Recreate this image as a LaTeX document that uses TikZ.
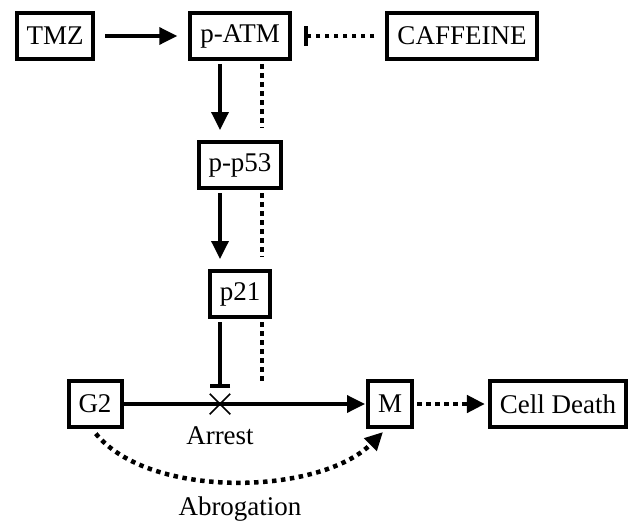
\documentclass[tikz,border=0pt]{standalone}
\usepackage{fontspec}
\setmainfont{Liberation Serif}
\usetikzlibrary{arrows.meta,shapes.misc}

\begin{document}
\begin{tikzpicture}[x=1pt,y=-1pt,
        box/.style={draw,line width=4pt,inner xsep=10pt,minimum height=46pt,font=\fontsize{27}{30}\selectfont},
        txt/.style={font=\fontsize{27}{30}\selectfont,inner sep=0pt},
        act/.style={line width=3.5pt,-{Triangle[length=18pt,width=17pt]}},
        inh/.style={line width=3.5pt,-{Bar[width=20pt,line width=4pt]}},
        dots/.style={line width=4.5pt,dash pattern=on 4.5pt off 4.5pt}]
        \useasboundingbox (0,0) rectangle (634,527);
        % boxes
        \node[box] (tmz) at (55,36) {TMZ};
        \node[box] (patm) at (240,36) {p-ATM};
        \node[box] (caff) at (462,36) {CAFFEINE};
        \node[box] (pp53) at (240,165) {p-p53};
        \node[box] (p21) at (240,294) {p21};
        \node[box] (g2) at (95,404) {G2};
        \node[box] (m) at (390,404) {M};
        \node[box] (death) at (558,404) {Cell Death};
        \node[cross out,draw,minimum size=19pt,line width=1.5pt] (x) at (220,404) {};
        \node[txt] (arrest) at (220,436) {Arrest};
        \node[txt] (abro) at (240,509) {Abrogation};
        \coordinate (dend) at (262,385);
        % pathway
        \draw[act,shorten <=10pt,shorten >=11pt] (tmz) -- (patm);
        \draw[dots,-{Bar[width=20pt,line width=4pt]},shorten <=11pt,shorten >=12pt] (caff) -- (patm);
        \draw[act,shorten <=3pt,shorten >=10pt] ([xshift=-20pt]patm.south) -- ([xshift=-20pt]pp53.north);
        \draw[act,shorten <=3pt,shorten >=10pt] ([xshift=-20pt]pp53.south) -- ([xshift=-20pt]p21.north);
        \draw[inh,shorten <=3pt,shorten >=16pt] ([xshift=-20pt]p21.south) -- (x.center);
        \foreach \a/\b in {patm/pp53,pp53/p21}{
            \draw[dots,shorten <=3pt,shorten >=12pt] ([xshift=22pt]\a.south) -- ([xshift=22pt]\b.north);
        }
        \draw[dots,shorten <=3pt] ([xshift=22pt]p21.south) -- (dend);
        % cell cycle
        \draw[act,shorten >=1pt] (g2) -- (m);
        \draw[dots,-{Triangle[length=18pt,width=17pt]},shorten <=3pt,shorten >=3pt] (m) -- (death);
        \draw[dots,-{Triangle[length=18pt,width=17pt]},shorten <=6pt] ([xshift=-3pt]g2.south) .. controls (150,500) and (320,495) .. ([xshift=-7pt,yshift=-3pt]m.south);
\end{tikzpicture}
\end{document}
